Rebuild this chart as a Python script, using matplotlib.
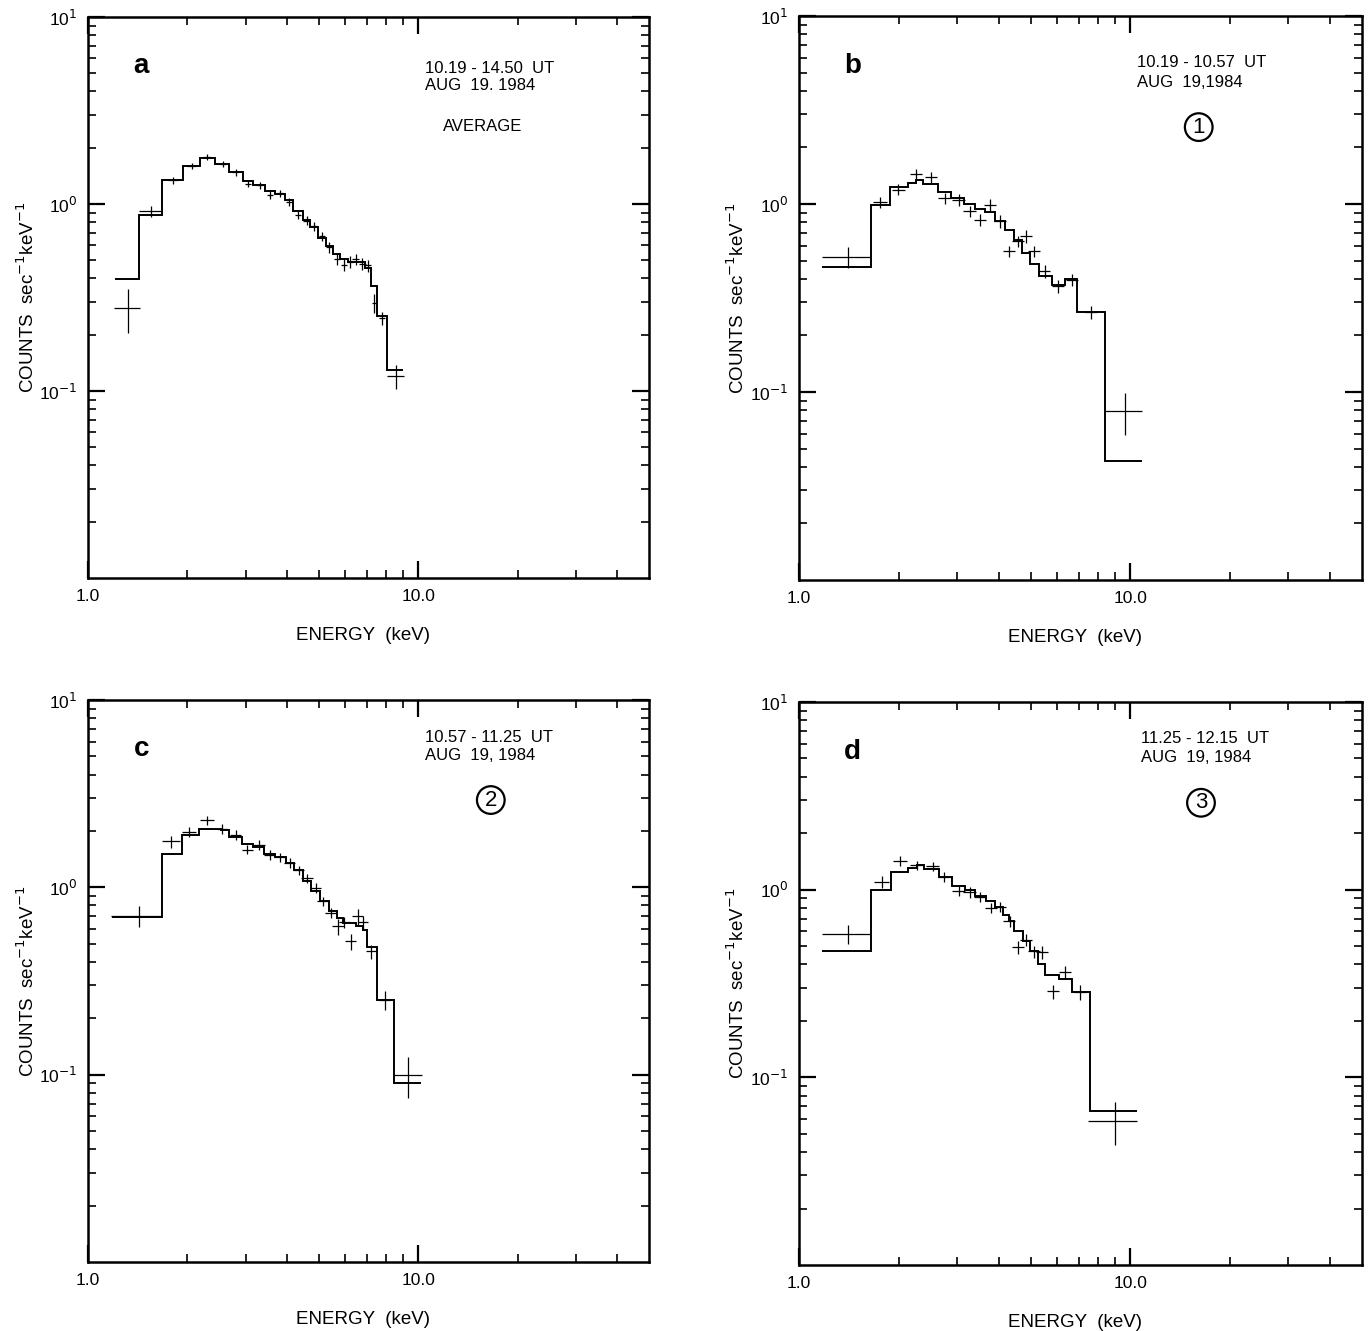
import matplotlib
matplotlib.use('Agg')
import matplotlib.pyplot as plt
from matplotlib.ticker import FixedLocator, NullFormatter

plt.rcParams['font.family'] = ['Liberation Sans', 'DejaVu Sans']

# ---- panel a: average 10.19 - 14.50 UT ----
a_edges = [1.21, 1.43, 1.68, 1.94, 2.19, 2.42, 2.68, 2.94, 3.16, 3.43, 3.68, 3.94, 4.18,
           4.48, 4.70, 4.98, 5.27, 5.52, 5.79, 6.13, 6.89, 7.22, 7.51, 8.02, 9.02]
a_model = [0.395, 0.877, 1.34, 1.59, 1.76, 1.64, 1.49, 1.32, 1.27, 1.17, 1.135, 1.05,
           0.914, 0.825, 0.754, 0.659, 0.594, 0.537, 0.508, 0.489, 0.455, 0.363, 0.251, 0.129]
a_e = [1.32, 1.55, 1.81, 2.06, 2.29, 2.56, 2.80, 3.05, 3.31, 3.56, 3.81, 4.06, 4.33,
       4.59, 4.83, 5.12, 5.36, 5.69, 5.96, 6.21, 6.46, 6.78, 7.06, 7.34, 7.77, 8.55]
a_c = [0.278, 0.914, 1.34, 1.60, 1.78, 1.64, 1.48, 1.28, 1.26, 1.12, 1.14, 1.03, 0.877,
       0.815, 0.760, 0.672, 0.589, 0.505, 0.474, 0.489, 0.508, 0.480, 0.469, 0.296, 0.246, 0.120]
a_de = [0.12, 0.12, 0.06, 0.06, 0.06, 0.06, 0.07, 0.07, 0.08, 0.08, 0.08, 0.09, 0.10,
        0.10, 0.10, 0.11, 0.12, 0.12, 0.13, 0.13, 0.14, 0.15, 0.15, 0.10, 0.18, 0.50]
a_dc = [0.074, 0.064, 0.06, 0.06, 0.06, 0.06, 0.06, 0.05, 0.05, 0.05, 0.05, 0.05, 0.045,
        0.045, 0.04, 0.04, 0.04, 0.035, 0.035, 0.035, 0.035, 0.035, 0.035, 0.034, 0.02, 0.017]

# ---- panel b: 10.19 - 10.57 UT ----
b_edges = [1.171, 1.646, 1.884, 2.13, 2.26, 2.375, 2.62, 2.88, 3.14, 3.39, 3.65, 3.91,
           4.19, 4.44, 4.71, 4.99, 5.29, 5.80, 6.36, 6.90, 8.40, 10.85]
b_model = [0.462, 0.984, 1.231, 1.30, 1.336, 1.283, 1.158, 1.076, 1.004, 0.941, 0.903,
           0.815, 0.724, 0.641, 0.549, 0.482, 0.412, 0.372, 0.399, 0.265, 0.0428]
b_e = [1.41, 1.757, 1.995, 2.26, 2.50, 2.75, 3.03, 3.27, 3.52, 3.78, 4.05, 4.31, 4.58,
       4.85, 5.13, 5.51, 6.04, 6.66, 7.62, 9.61]
b_c = [0.522, 1.025, 1.19, 1.44, 1.39, 1.076, 1.054, 0.914, 0.826, 0.992, 0.809, 0.560,
       0.633, 0.673, 0.560, 0.438, 0.365, 0.396, 0.265, 0.0789]
b_de = [0.24, 0.08, 0.09, 0.09, 0.10, 0.12, 0.13, 0.14, 0.15, 0.16, 0.17, 0.18, 0.19,
        0.20, 0.22, 0.23, 0.25, 0.28, 0.30, 1.2]
b_dc = [0.067, 0.07, 0.08, 0.09, 0.09, 0.075, 0.075, 0.065, 0.06, 0.07, 0.06, 0.04,
        0.045, 0.05, 0.04, 0.035, 0.03, 0.03, 0.02, 0.02]

# ---- panel c: 10.57 - 11.25 UT ----
c_edges = [1.185, 1.68, 1.93, 2.165, 2.31, 2.52, 2.67, 2.92, 3.16, 3.41, 3.68, 3.97, 4.20,
           4.48, 4.75, 5.04, 5.37, 5.66, 5.93, 6.50, 6.82, 6.98, 7.51, 8.44, 10.2]
c_model = [0.695, 1.512, 1.91, 2.05, 2.06, 2.02, 1.86, 1.71, 1.635, 1.51, 1.45, 1.35,
           1.24, 1.077, 0.952, 0.842, 0.744, 0.686, 0.645, 0.619, 0.594, 0.478, 0.251, 0.0903]
c_e = [1.428, 1.789, 2.02, 2.295, 2.55, 2.80, 3.04, 3.30, 3.55, 3.81, 4.08, 4.35, 4.61,
       4.89, 5.15, 5.43, 5.72, 5.97, 6.25, 6.55, 6.81, 7.22, 7.93, 9.34]
c_c = [0.706, 1.76, 1.97, 2.28, 2.05, 1.91, 1.59, 1.69, 1.49, 1.45, 1.35, 1.23, 1.12,
       0.992, 0.842, 0.730, 0.619, 0.650, 0.515, 0.70, 0.650, 0.455, 0.251, 0.10]
c_de = [0.25, 0.115, 0.10, 0.11, 0.10, 0.11, 0.12, 0.13, 0.14, 0.15, 0.16, 0.17, 0.18,
        0.19, 0.20, 0.21, 0.22, 0.23, 0.24, 0.25, 0.26, 0.28, 0.30, 0.9]
c_dc = [0.09, 0.13, 0.12, 0.13, 0.12, 0.11, 0.09, 0.10, 0.09, 0.08, 0.08, 0.07, 0.06,
        0.06, 0.05, 0.045, 0.06, 0.045, 0.05, 0.07, 0.05, 0.04, 0.03, 0.025]

# ---- panel d: 11.25 - 12.15 UT ----
d_edges = [1.176, 1.646, 1.897, 2.14, 2.27, 2.39, 2.65, 2.89, 3.16, 3.40, 3.67, 3.91,
           4.12, 4.29, 4.46, 4.74, 4.99, 5.26, 5.53, 6.08, 6.67, 7.54, 10.47]
d_model = [0.473, 1.00, 1.242, 1.305, 1.36, 1.29, 1.168, 1.042, 0.992, 0.922, 0.867,
           0.809, 0.736, 0.678, 0.600, 0.531, 0.469, 0.402, 0.352, 0.336, 0.284, 0.0664]
d_e = [1.41, 1.777, 2.02, 2.27, 2.53, 2.74, 3.03, 3.27, 3.52, 3.80, 4.05, 4.32, 4.57,
       4.84, 5.11, 5.41, 5.84, 6.37, 7.06, 8.97]
d_c = [0.580, 1.099, 1.43, 1.35, 1.33, 1.168, 0.980, 0.968, 0.914, 0.798, 0.809, 0.678,
       0.493, 0.542, 0.469, 0.464, 0.287, 0.363, 0.284, 0.0588]
d_de = [0.24, 0.09, 0.10, 0.10, 0.11, 0.12, 0.13, 0.14, 0.15, 0.16, 0.17, 0.18, 0.19,
        0.20, 0.21, 0.22, 0.25, 0.27, 0.30, 1.5]
d_dc = [0.065, 0.08, 0.09, 0.08, 0.08, 0.07, 0.06, 0.06, 0.055, 0.05, 0.05, 0.045, 0.04,
        0.04, 0.035, 0.035, 0.025, 0.03, 0.025, 0.015]

W, H = 1369, 1331
fig = plt.figure(figsize=(W / 100, H / 100), dpi=100)


def px_axes(left, right, top, bottom):
    return fig.add_axes([left / W, 1 - bottom / H, (right - left) / W, (bottom - top) / H])


def style(ax):
    ax.set_xscale('log')
    ax.set_yscale('log')
    ax.set_xlim(1.0, 50.0)
    ax.set_ylim(0.01, 10.0)
    for s in ax.spines.values():
        s.set_linewidth(1.8)
    ax.xaxis.set_major_locator(FixedLocator([1.0, 10.0]))
    ax.set_xticklabels(['1.0', '10.0'])
    ax.xaxis.set_minor_locator(FixedLocator([2, 3, 4, 5, 6, 7, 8, 9, 20, 30, 40]))
    ax.xaxis.set_minor_formatter(NullFormatter())
    ax.yaxis.set_major_locator(FixedLocator([0.1, 1.0, 10.0]))
    ax.set_yticklabels(['10$^{-1}$', '10$^{0}$', '10$^{1}$'])
    ymin = [k * d for d in (0.01, 0.1, 1.0) for k in range(2, 10)]
    ax.yaxis.set_minor_locator(FixedLocator(ymin))
    ax.yaxis.set_minor_formatter(NullFormatter())
    ax.tick_params(which='major', direction='in', length=12, width=1.6,
                   top=True, right=True, labelsize=12.5, pad=8)
    ax.tick_params(which='minor', direction='in', length=6, width=1.2,
                   top=True, right=True)
    ax.set_xlabel('ENERGY  (keV)', fontsize=13.5)
    ax.set_ylabel('COUNTS  sec$^{-1}$keV$^{-1}$', fontsize=13.5)
    ax.xaxis.set_label_coords(0.49, -0.087)
    ax.yaxis.set_label_coords(-0.09, 0.5)


panels = [
    (88, 649, 17, 578, a_edges, a_model, a_e, a_c, a_de, a_dc, 'a',
     ['10.19 - 14.50  UT', 'AUG  19. 1984'], (0.600, 0.909, 0.878), None),
    (799, 1362, 16, 580, b_edges, b_model, b_e, b_c, b_de, b_dc, 'b',
     ['10.19 - 10.57  UT', 'AUG  19,1984'], (0.601, 0.917, 0.882), ('1', 0.710, 0.803)),
    (88, 649, 700, 1262, c_edges, c_model, c_e, c_c, c_de, c_dc, 'c',
     ['10.57 - 11.25  UT', 'AUG  19, 1984'], (0.600, 0.934, 0.902), ('2', 0.718, 0.822)),
    (799, 1362, 702, 1265, d_edges, d_model, d_e, d_c, d_de, d_dc, 'd',
     ['11.25 - 12.15  UT', 'AUG  19, 1984'], (0.607, 0.936, 0.902), ('3', 0.714, 0.821)),
]

for (l, r, t, b, edges, model, e, c, de, dc, letter, lines, tpos, circ) in panels:
    ax = px_axes(l, r, t, b)
    style(ax)
    ax.stairs(model, edges, baseline=None, color='black', linewidth=1.4)
    ax.errorbar(e, c, xerr=de, yerr=dc, fmt='none', ecolor='black',
                elinewidth=0.9, capsize=0)
    ax.text(0.095, 0.912, letter, transform=ax.transAxes, fontsize=20,
            fontweight='bold', ha='center', va='center')
    ax.text(tpos[0], tpos[1], lines[0], transform=ax.transAxes, fontsize=12,
            ha='left', va='center')
    ax.text(tpos[0], tpos[2], lines[1], transform=ax.transAxes, fontsize=12,
            ha='left', va='center')
    if circ is None:
        ax.text(0.632, 0.804, 'AVERAGE', transform=ax.transAxes, fontsize=12,
                ha='left', va='center')
    else:
        ax.text(circ[1], circ[2], circ[0], transform=ax.transAxes, fontsize=16,
                ha='center', va='center',
                bbox=dict(boxstyle='circle,pad=0.15', fc='none', ec='black', lw=1.6))

fig.savefig('out.png', dpi=100, facecolor='white')
